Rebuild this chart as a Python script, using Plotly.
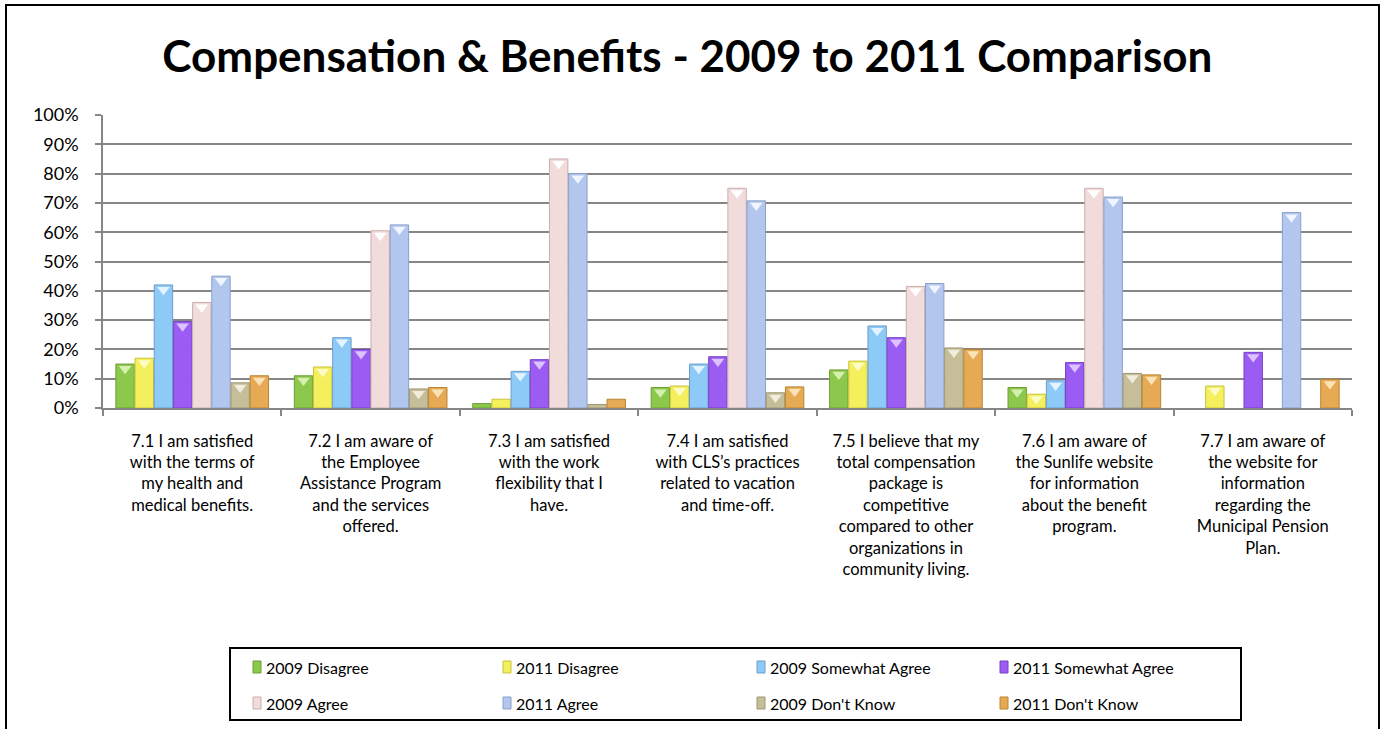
import plotly.graph_objects as go

# Survey statements (x categories)
categories = [
    "7.1 I am satisfied<br>with the terms of<br>my health and<br>medical benefits.",
    "7.2 I am aware of<br>the Employee<br>Assistance Program<br>and the services<br>offered.",
    "7.3 I am satisfied<br>with the work<br>flexibility that I<br>have.",
    "7.4 I am satisfied<br>with CLS\u2019s practices<br>related to vacation<br>and time-off.",
    "7.5 I believe that my<br>total compensation<br>package is<br>competitive<br>compared to other<br>organizations in<br>community living.",
    "7.6 I am aware of<br>the Sunlife website<br>for information<br>about the benefit<br>program.",
    "7.7 I am aware of<br>the website for<br>information<br>regarding the<br>Municipal Pension<br>Plan.",
]

# Response shares (percent of respondents)
disagree_2009 = [15, 11, 1.5, 7, 13, 7, 0]
disagree_2011 = [17, 14, 3, 7.5, 16, 4.7, 7.5]
somewhat_2009 = [42, 24, 12.5, 15, 28, 9.3, 0]
somewhat_2011 = [29.5, 20, 16.5, 17.5, 24, 15.5, 19]
agree_2009 = [36, 60.5, 85, 75, 41.5, 75, 0]
agree_2011 = [45, 62.5, 80, 70.7, 42.5, 72, 66.7]
dontknow_2009 = [8.6, 6.5, 1.2, 5.2, 20.5, 11.8, 0]
dontknow_2011 = [11, 7, 3, 7.2, 20, 11.3, 9.8]

series_names = [
    "2009 Disagree", "2011 Disagree", "2009 Somewhat Agree", "2011 Somewhat Agree",
    "2009 Agree", "2011 Agree", "2009 Don't Know", "2011 Don't Know",
]
series_values = [
    disagree_2009, disagree_2011, somewhat_2009, somewhat_2011,
    agree_2009, agree_2011, dontknow_2009, dontknow_2011,
]
fill_colors = ["#8cc84b", "#f4ef5c", "#8ecaf8", "#9b5cf4",
               "#f2dcdb", "#b2c6ee", "#c5be98", "#e6aa55"]
edge_colors = ["#6f9e35", "#c9c33e", "#6b9ec8", "#7740c4",
               "#c9aeae", "#8ba0c8", "#9d9674", "#b98532"]
cap_colors = ["#d4efb0", "#fdfbc8", "#e3f3ff", "#dcc2ff",
              "#ffffff", "#f0f5ff", "#f1eddc", "#fbe3b8"]

W, H = 1383, 729
ML, MR, MT, MB = 103, 31, 115, 321
PW, PH = W - ML - MR, H - MT - MB


def px_x(x):
    return (x - ML) / PW


def px_y(y):
    return (H - MB - y) / PH


fig = go.Figure()
for i, (name, vals, fc, ec, cc) in enumerate(
        zip(series_names, series_values, fill_colors, edge_colors, cap_colors)):
    shares = [v / 100 if v else None for v in vals]
    fig.add_trace(go.Bar(
        name=name, x=categories, y=shares,
        offsetgroup=str(i), alignmentgroup="resp",
        marker=dict(color=fc, line=dict(color=ec, width=1)),
        showlegend=False,
    ))
    # bevel highlight just under each bar top
    fig.add_trace(go.Scatter(
        x=categories, y=[s - 0.016 if s and s > 0.03 else None for s in shares],
        offsetgroup=str(i), alignmentgroup="resp", mode="markers",
        marker=dict(symbol="triangle-down", size=11, color=cc, line=dict(width=0)),
        hoverinfo="skip", showlegend=False,
    ))

font_main = "Lato, 'Open Sans', sans-serif"

shapes = [
    # outer chart frame
    dict(type="rect", xref="paper", yref="paper",
         x0=px_x(6), x1=px_x(1379), y0=px_y(760), y1=px_y(5),
         line=dict(color="#000000", width=2), fillcolor="rgba(0,0,0,0)", layer="below"),
    # legend frame
    dict(type="rect", xref="paper", yref="paper",
         x0=px_x(230), x1=px_x(1241), y0=px_y(720), y1=px_y(648),
         line=dict(color="#000000", width=2), fillcolor="rgba(0,0,0,0)"),
]
annotations = []

# legend entries: 4 columns x 2 rows
col_x = [253, 503, 757, 1000]
row_y = [667, 703]
for i, (name, fc, ec) in enumerate(zip(series_names, fill_colors, edge_colors)):
    cx = col_x[i % 4]
    cy = row_y[i // 4]
    shapes.append(dict(type="rect", xref="paper", yref="paper",
                       x0=px_x(cx), x1=px_x(cx + 8), y0=px_y(cy + 6), y1=px_y(cy - 6),
                       line=dict(color=ec, width=1), fillcolor=fc))
    annotations.append(dict(xref="paper", yref="paper", x=px_x(cx + 11), y=px_y(cy),
                            xanchor="left", yanchor="middle", showarrow=False,
                            text=name, font=dict(family=font_main, size=16, color="#000000")))

fig.update_layout(
    width=W, height=H,
    margin=dict(l=ML, r=MR, t=MT, b=MB, pad=0),
    paper_bgcolor="#ffffff", plot_bgcolor="#ffffff",
    barmode="group", bargap=0.14, bargroupgap=0.04,
    scattermode="group", scattergap=0.14,
    title=dict(text="<b>Compensation & Benefits - 2009 to 2011 Comparison</b>",
               x=0.497, xanchor="center", y=1 - 57 / H, yanchor="middle",
               font=dict(family=font_main, size=44, color="#000000")),
    xaxis=dict(showgrid=False, showline=True, linecolor="#868686", linewidth=1.5,
               ticks="outside", tickson="boundaries", ticklen=6, tickcolor="#868686",
               tickwidth=1.5, ticklabelstandoff=17,
               tickfont=dict(family=font_main, size=16.5, color="#000000")),
    yaxis=dict(range=[0, 1], tickvals=[i / 10 for i in range(11)],
               tickformat=".0%", showgrid=True, gridcolor="#868686", gridwidth=1.5,
               showline=True, linecolor="#868686", linewidth=1.5,
               ticks="outside", ticklen=6, tickcolor="#868686", tickwidth=1.5,
               ticklabelstandoff=13, zeroline=False,
               tickfont=dict(family=font_main, size=18, color="#000000")),
    shapes=shapes, annotations=annotations,
)

fig.write_html("out.html")
